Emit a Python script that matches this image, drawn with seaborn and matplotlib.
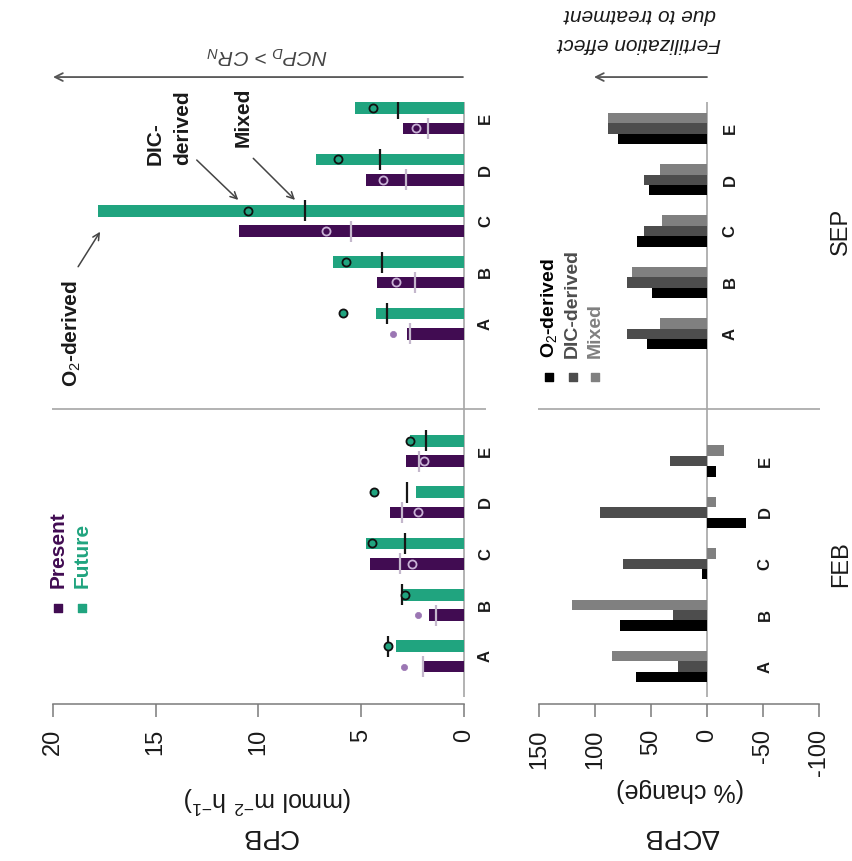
import numpy as np
import pandas as pd
import matplotlib
matplotlib.use("Agg")
import matplotlib.pyplot as plt
import seaborn as sns

# ---------------------------------------------------------------- data
sites = ["A", "B", "C", "D", "E"]
months = ["FEB", "SEP"]

# CPB (mmol m-2 h-1): O2-derived (bars), DIC-derived (circles), mixed (ticks)
feb_present_o2 = [1.95, 1.69, 4.57, 3.62, 2.84]
feb_future_o2 = [3.31, 2.95, 4.77, 2.33, 2.63]
sep_present_o2 = [2.79, 4.25, 10.96, 4.77, 2.95]
sep_future_o2 = [4.28, 6.36, 17.79, 7.21, 5.30]

feb_present_dic = [2.90, 2.22, 2.54, 2.25, 1.95]
feb_future_dic = [3.68, 2.87, 4.46, 4.38, 2.63]
sep_present_dic = [3.44, 3.32, 6.73, 3.92, 2.33]
sep_future_dic = [5.90, 5.74, 10.52, 6.11, 4.41]

feb_present_mix = [1.98, 1.36, 3.11, 3.03, 2.19]
feb_future_mix = [3.68, 3.03, 2.85, 2.79, 1.85]
sep_present_mix = [2.63, 2.38, 5.50, 2.84, 1.73]
sep_future_mix = [3.75, 3.97, 7.73, 4.07, 3.23]

# Delta CPB (% change, future vs present)
feb_delta_o2 = [63.3, 77.5, 4.7, -34.5, -8.0]
feb_delta_dic = [25.6, 30.0, 74.6, 95.4, 33.0]
feb_delta_mix = [84.4, 120.6, -8.0, -8.0, -15.4]
sep_delta_o2 = [53.7, 48.7, 62.1, 51.4, 79.6]
sep_delta_dic = [71.6, 71.6, 56.1, 55.9, 88.5]
sep_delta_mix = [41.9, 66.6, 40.4, 41.9, 88.5]

cpb_ticks = [0, 5, 10, 15, 20]
delta_ticks = [-100, -50, 0, 50, 100, 150]

# ---------------------------------------------------------------- style
PURPLE = "#410c52"
GREEN = "#20a47f"
GREYS = {"O2": "#000000", "DIC": "#4d4d4d", "Mixed": "#808080"}
LINE_GREY = "#a6a6a6"

sns.set_theme(style="white")
plt.rcParams["font.family"] = ["Liberation Sans", "DejaVu Sans"]
plt.rcParams["mathtext.fontset"] = "custom"
plt.rcParams["mathtext.rm"] = "Liberation Sans"
plt.rcParams["mathtext.it"] = "Liberation Sans:italic"
plt.rcParams["mathtext.bf"] = "Liberation Sans:bold"
plt.rcParams["axes.unicode_minus"] = False

# ---------------------------------------------------------------- tables
month_offset = {"FEB": 0.0, "SEP": 6.48}
scen_offset = {"Present": 0.0, "Future": 0.397}

cpb_src = {
    ("FEB", "Present"): (feb_present_o2, feb_present_dic, feb_present_mix),
    ("FEB", "Future"): (feb_future_o2, feb_future_dic, feb_future_mix),
    ("SEP", "Present"): (sep_present_o2, sep_present_dic, sep_present_mix),
    ("SEP", "Future"): (sep_future_o2, sep_future_dic, sep_future_mix),
}
rows = []
for (m, sc), (o2, dic, mix) in cpb_src.items():
    for i, s in enumerate(sites):
        rows.append(dict(month=m, site=s, scenario=sc, o2=o2[i], dic=dic[i],
                         mixed=mix[i], pos=i + month_offset[m],
                         ypos=i + month_offset[m] + scen_offset[sc]))
cpb = pd.DataFrame(rows)

src_offset = {"O2": -0.203, "DIC": 0.0, "Mixed": 0.203}
delta_src = {
    ("FEB", "O2"): feb_delta_o2, ("FEB", "DIC"): feb_delta_dic,
    ("FEB", "Mixed"): feb_delta_mix, ("SEP", "O2"): sep_delta_o2,
    ("SEP", "DIC"): sep_delta_dic, ("SEP", "Mixed"): sep_delta_mix,
}
rows = []
for (m, src), vals in delta_src.items():
    for i, s in enumerate(sites):
        rows.append(dict(month=m, site=s, source=src, value=vals[i],
                         pos=i + month_offset[m],
                         ypos=i + month_offset[m] + src_offset[src]))
delta = pd.DataFrame(rows)

# ---------------------------------------------------------------- figure
W, H = 853, 861
fig = plt.figure(figsize=(W / 100, H / 100), dpi=100)


def box(x0, x1, y0, y1):
    return [x0 / W, 1 - y1 / H, (x1 - x0) / W, (y1 - y0) / H]


ax_c = fig.add_axes(box(52, 486, 101.7, 696.7))
ax_d = fig.add_axes(box(538, 820, 101.7, 696.7))
YLIM = (-0.588, 11.0)

# CPB bars
for sc, col in [("Present", PURPLE), ("Future", GREEN)]:
    sub = cpb[cpb.scenario == sc]
    sns.barplot(data=sub, x="o2", y="ypos", orient="h", native_scale=True,
                width=0.228, color=col, saturation=1, errorbar=None,
                linewidth=0, ax=ax_c)

# mixed-estimate ticks
for sc, col in [("Present", "#c4b7cc"), ("Future", "#161616")]:
    sub = cpb[cpb.scenario == sc]
    ax_c.vlines(sub["mixed"], sub["ypos"] - 0.205, sub["ypos"] + 0.205,
                color=col, lw=1.6, zorder=4)

# DIC-derived circles
fut = cpb[cpb.scenario == "Future"]
sns.scatterplot(data=fut, x="dic", y="ypos", marker="o", s=34, color=GREEN,
                edgecolor="#111111", linewidth=1.3, ax=ax_c, zorder=5,
                legend=False)
pres = cpb[cpb.scenario == "Present"]
inside = pres[pres.dic <= pres.o2]
outside = pres[pres.dic > pres.o2]
sns.scatterplot(data=inside, x="dic", y="ypos", marker="o", s=34,
                color=PURPLE, edgecolor="#c9b2d6", linewidth=1.3, ax=ax_c,
                zorder=5, legend=False)
sns.scatterplot(data=outside, x="dic", y="ypos", marker="o", s=20,
                color="#9b76b3", edgecolor="#9b76b3", linewidth=0.5, ax=ax_c,
                zorder=5, legend=False)

# Delta CPB bars
for src in ["O2", "DIC", "Mixed"]:
    sub = delta[delta.source == src]
    sns.barplot(data=sub, x="value", y="ypos", orient="h", native_scale=True,
                width=0.203, color=GREYS[src], saturation=1, errorbar=None,
                linewidth=0, ax=ax_d)

# ---------------------------------------------------------------- axes
for ax, xl, ticks, bounds in [(ax_c, (20.04, -1.07), cpb_ticks, (0, 20)),
                              (ax_d, (150.73, -100.79), delta_ticks, (-100, 150))]:
    ax.set_xlim(*xl)
    ax.set_ylim(*YLIM)
    ax.axvline(0, color=LINE_GREY, lw=1.2, zorder=0.5)
    ax.axhline(5.01, color=LINE_GREY, lw=1.2, zorder=0.5)
    for sp in ["left", "right", "top"]:
        ax.spines[sp].set_visible(False)
    ax.spines["bottom"].set_position(("outward", 5))
    ax.spines["bottom"].set_bounds(*bounds)
    ax.spines["bottom"].set_color("#7a7a7a")
    ax.spines["bottom"].set_linewidth(1.1)
    ax.set_xticks(ticks)
    ax.set_xticklabels([str(t) for t in ticks])
    ax.tick_params(axis="x", bottom=True, rotation=90, length=9.4, width=1.1,
                   color="#7a7a7a", pad=9.0, labelsize=17,
                   labelcolor="#1a1a1a")
    ax.set_yticks([])
    ax.set_xlabel("")
    ax.set_ylabel("")
    ax.patch.set_alpha(0)

# site labels (the FEB change panel keeps room for its negative bars)
delta_label_x = {"FEB": -51.7, "SEP": -20.5}
for m in months:
    for i, s in enumerate(sites):
        p = i + month_offset[m]
        ax_c.text(-1.046, p + 0.198, s, rotation=90, ha="center", va="center",
                  fontsize=12, fontweight="bold", color="#1a1a1a", clip_on=False)
        ax_d.text(delta_label_x[m], p, s, rotation=90, ha="center",
                  va="center", fontsize=12, fontweight="bold",
                  color="#1a1a1a", clip_on=False)

# month labels
for m in months:
    ax_d.text(-119.5, 2 + month_offset[m], m, rotation=90, ha="center",
              va="center", fontsize=17, color="#1a1a1a", clip_on=False)

# axis titles
fig.text(269 / W, 1 - 835.7 / H, "CPB", rotation=180, ha="center",
         va="center", fontsize=20, color="#1a1a1a")
fig.text(268 / W, 1 - 800 / H, r"(mmol m$^{-2}$ h$^{-1}$)", rotation=180,
         ha="center", va="center", fontsize=18, color="#1a1a1a")
fig.text(681 / W, 1 - 835.7 / H, "\u0394CPB", rotation=180, ha="center",
         va="center", fontsize=20, color="#1a1a1a")
fig.text(680 / W, 1 - 790 / H, "(% change)", rotation=180, ha="center",
         va="center", fontsize=18, color="#1a1a1a")

# direction arrows above the panels
arrow_kw = dict(arrowstyle="->", color="#555555", lw=1.3, mutation_scale=14,
                shrinkA=0, shrinkB=0)
ax_c.annotate("", xy=(19.99, 11.48), xytext=(0.05, 11.48),
              arrowprops=arrow_kw, annotation_clip=False)
ax_c.text(9.58, 11.91, r"$NCP_D$ > $CR_N$", rotation=180, ha="center",
          va="center", fontsize=15, style="italic", color="#444444",
          clip_on=False)
ax_d.annotate("", xy=(100.8, 11.48), xytext=(0, 11.48),
              arrowprops=arrow_kw, annotation_clip=False)
ax_d.text(60.6, 12.14, "Fertilization effect", rotation=180, ha="center",
          va="center", fontsize=15, style="italic", color="#1a1a1a",
          clip_on=False)
ax_d.text(59.8, 12.70, "due to treatment", rotation=180, ha="center",
          va="center", fontsize=15, style="italic", color="#1a1a1a",
          clip_on=False)

# legend: Present / Future
for j, (lab, col) in enumerate([("Present", PURPLE), ("Future", GREEN)]):
    xv = [19.73, 18.59][j]
    ax_c.scatter([xv], [1.145], marker="s", s=36, color=col, clip_on=False)
    ax_c.text(xv, 1.529, lab, rotation=90, ha="center", va="bottom",
              fontsize=15, fontweight="bold", color=col)

# legend: estimate sources
legend_labels = {"O2": r"O$_2$-derived", "DIC": "DIC-derived", "Mixed": "Mixed"}
for xv, src in zip([140.65, 119.8, 99.9], ["O2", "DIC", "Mixed"]):
    ax_d.scatter([xv], [5.644], marker="s", s=30, color=GREYS[src])
    ax_d.text(xv, 6.008, legend_labels[src], rotation=90, ha="center",
              va="bottom", fontsize=14, fontweight="bold", color=GREYS[src])

# callouts on SEP site C
c_sep = cpb[(cpb.month == "SEP") & (cpb.site == "C") & (cpb.scenario == "Future")].iloc[0]
call_kw = dict(arrowstyle="->", color="#444444", lw=1.1, mutation_scale=12,
               shrinkA=0, shrinkB=0)
ax_c.annotate("", xy=(c_sep.o2 - 0.09, c_sep.ypos - 0.41),
              xytext=(18.77, 7.786), arrowprops=call_kw)
ax_c.annotate("", xy=(c_sep.dic + 0.46, c_sep.ypos + 0.21),
              xytext=(13.0, 9.864), arrowprops=call_kw)
ax_c.annotate("", xy=(c_sep.mixed + 0.49, c_sep.ypos + 0.21),
              xytext=(10.25, 9.897), arrowprops=call_kw)
ax_c.text(19.08, 5.449, r"O$_2$-derived", rotation=90, ha="center",
          va="bottom", fontsize=15, fontweight="bold", color="#1a1a1a")
ax_c.text(15.03, 9.766, "DIC-", rotation=90, ha="center", va="bottom",
          fontsize=15, fontweight="bold", color="#1a1a1a")
ax_c.text(13.67, 9.766, "derived", rotation=90, ha="center", va="bottom",
          fontsize=15, fontweight="bold", color="#1a1a1a", clip_on=False)
ax_c.text(10.75, 10.117, "Mixed", rotation=90, ha="center", va="bottom",
          fontsize=15, fontweight="bold", color="#1a1a1a", clip_on=False)

fig.savefig("out.png", dpi=100)
